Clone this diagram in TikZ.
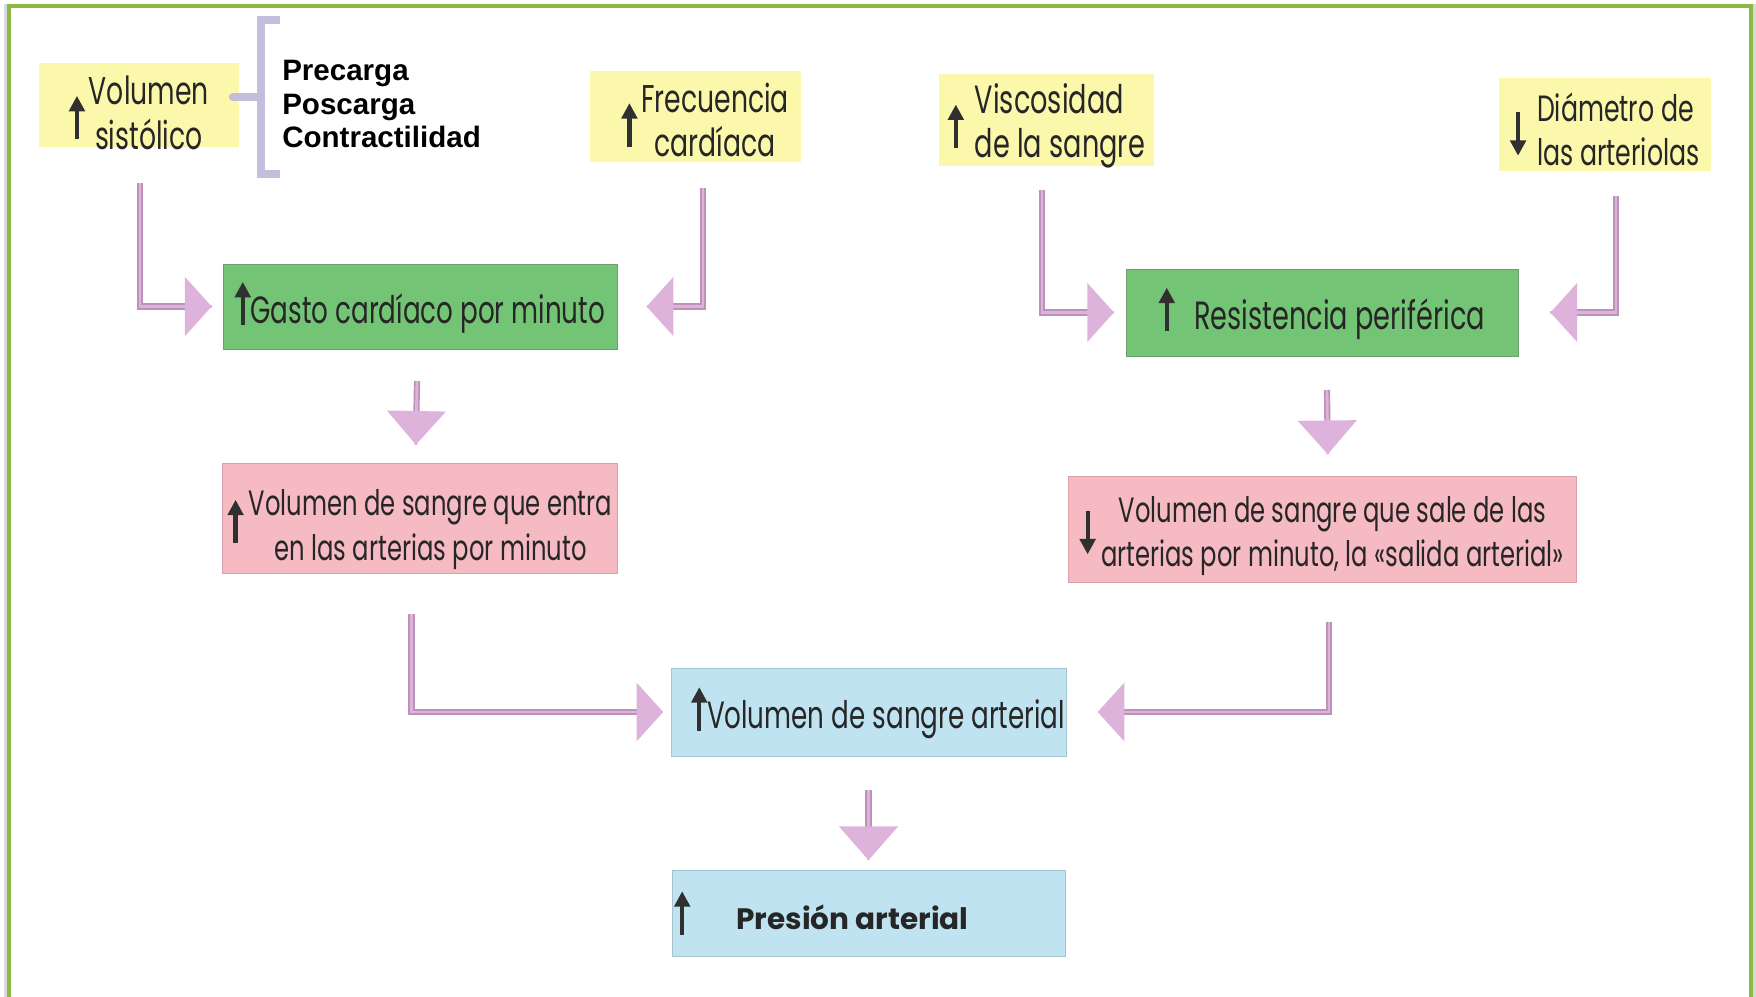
\documentclass[tikz,border=0pt]{standalone}
\usepackage{fontspec}
\usepackage{tikz}
\usetikzlibrary{positioning,calc,arrows.meta}

\newfontfamily\futu[FakeStretch=0.69]{Poppins}
\newfontfamily\futub{Poppins}
\newfontfamily\arialb{Liberation Sans}

\definecolor{frameg}{HTML}{8DB845}
\definecolor{ylw}{HTML}{FBF8AC}
\definecolor{grn}{HTML}{74C476}
\definecolor{grnedge}{HTML}{6E9E6E}
\definecolor{pnk}{HTML}{F5BAC2}
\definecolor{pnkedge}{HTML}{D5A3AA}
\definecolor{blu}{HTML}{BFE3F1}
\definecolor{bluedge}{HTML}{A4C4CF}
\definecolor{txt}{HTML}{262626}
\definecolor{glyphc}{HTML}{303030}
\definecolor{flowout}{HTML}{BC92B8}
\definecolor{flowhead}{HTML}{DDB3DC}
\definecolor{bracec}{HTML}{C5BDDD}

\tikzstyle{box} = [rectangle, inner sep=0pt, outer sep=0pt, text=txt, font=\futu\fontsize{26}{31.5}\selectfont]
\tikzstyle{cause} = [box, fill=ylw]
\tikzstyle{heart} = [box, fill=grn, draw=grnedge, line width=0.6pt]
\tikzstyle{vol} = [box, fill=pnk, draw=pnkedge, line width=0.6pt]
\tikzstyle{art} = [box, fill=blu, draw=bluedge, line width=0.6pt]
\tikzstyle{det} = [inner sep=0pt, align=left, font=\arialb\bfseries\fontsize{21}{23.8}\selectfont]
\tikzstyle{glyph} = [draw=glyphc, line width=3pt, -{Triangle[length=11pt,width=11pt]}]
\tikzstyle{flow} = [draw=flowout, line width=4.4pt, postaction={draw=flowhead, line width=2pt, -}]
\tikzstyle{flowh} = [flow, -{Triangle[length=19pt,width=41pt,color=flowhead]}]
\tikzstyle{flowv} = [flow, -{Triangle[length=24pt,width=41pt,color=flowhead]}]
\tikzstyle{brace} = [draw=bracec, line width=6pt]
% font size per box, and how far a two-line label drops below the box centre
\tikzset{fs/.style={font=\futu\fontsize{#1}{31.5}\selectfont},
         drop/.style={text depth=0pt, text height=#1}}

\newcommand{\uparr}[1][2pt]{\tikz[baseline={(0pt,#1)}]\draw[glyph] (0pt,0pt) -- (0pt,31pt);}
\newcommand{\dnarr}[1][2pt]{\tikz[baseline={(0pt,#1)}]\draw[glyph] (0pt,31pt) -- (0pt,0pt);}

\begin{document}
\begin{tikzpicture}[x=0.025cm, y=-0.025cm]
    \useasboundingbox (0,0) rectangle (1756,997);
    % page frame, open at the bottom
    \draw[gray!30, line width=1.5pt] (5.5,1010) -- (5.5,4);
    \draw[gray!30, line width=1.5pt] (1754.5,1010) -- (1754.5,4);
    \draw[frameg, line width=3pt] (9,1010) |- (1751,6) -- (1751,1010);

    % the four causes along the top
    \node [cause, fs=27.5, drop=31pt, minimum width=5cm, minimum height=2.1cm] (volsis) at (139,105)
        {\uparr[9pt]\hspace{3pt}\begin{tabular}{@{}c@{}}Volumen\\sistólico\end{tabular}};
    \node [cause, fs=27.5, drop=25pt, minimum width=5.275cm, minimum height=2.275cm] (frec) at (695.5,116.5)
        {\hspace{14pt}\uparr[9pt]\hspace{3pt}\begin{tabular}{@{}c@{}}Frecuencia\\cardíaca\end{tabular}};
    \node [cause, fs=28, drop=22pt, minimum width=5.375cm, minimum height=2.3cm] (visc) at (1046.5,120)
        {\uparr[9pt]\hspace{8pt}\begin{tabular}{@{}l@{}}Viscosidad\\de la sangre\end{tabular}};
    \node [cause, fs=26, drop=26.5pt, minimum width=5.3cm, minimum height=2.325cm] (diam) at (1605,124.5)
        {\dnarr[9pt]\hspace{8pt}\begin{tabular}{@{}l@{}}Diámetro de\\las arteriolas\end{tabular}};
    \node [det, anchor=north west] (det) at (282,60) {Precarga\\Poscarga\\Contractilidad};

    % the bracket that groups them
    \draw [brace] (280,20) -| (261,174) -- (280,174);
    \draw [brace, line cap=round] ($(volsis.east)+(-6,-8)$) -- (261,97);

    % middle row
    \node [heart, fs=27, minimum width=9.85cm, minimum height=2.125cm] (gasto) at (420,306.5)
        {\uparr[1.5pt]Gasto cardíaco por minuto};
    \node [heart, fs=28, minimum width=9.8cm, minimum height=2.175cm] (resist) at (1322,312.5)
        {\uparr[1.5pt]\hspace{14pt}Resistencia periférica};
    \node [vol, fs=25, drop=28pt, below=2.85cm of gasto, minimum width=9.875cm, minimum height=2.75cm] (entra)
        {\uparr[4pt]\hspace{4pt}\begin{tabular}{@{}c@{}}Volumen de sangre que entra\\en las arterias por minuto\end{tabular}};
    \node [vol, fs=25, drop=22pt, below=3cm of resist, minimum width=12.7cm, minimum height=2.65cm] (sale)
        {\dnarr[7pt]\hspace{4pt}\begin{tabular}{@{}c@{}}Volumen de sangre que sale de las\\arterias por minuto, la «salida arterial»\end{tabular}};

    % result
    \node [art, fs=27, minimum width=9.875cm, minimum height=2.2cm] (volart) at (868.5,712)
        {\hspace{14pt}\uparr[1.5pt]Volumen de sangre arterial};
    \node [art, below=2.85cm of volart, minimum width=9.825cm, minimum height=2.15cm,
           text width=9.7cm, align=left] (presion)
        {\uparr[4pt]\hspace{33pt}{\futub\bfseries\fontsize{21}{25}\selectfont\spaceskip=0pt Presión arterial}};

    % connectors
    \draw [flowh, shorten >=8pt] ($(volsis.south)+(1,36)$) |- (gasto.west);
    \draw [flowh, shorten >=21pt] ($(frec.south)+(7.5,26)$) |- (gasto.east);
    \draw [flowh, shorten >=8.5pt] ($(visc.south)+(-4.5,24)$) |- (resist.west);
    \draw [flowh, shorten >=23pt] ($(diam.south)+(11,25)$) |- (resist.east);
    \draw [flowv, shorten >=13pt] ($(gasto.south)+(-3,32)$) -- ($(entra.north)+(-4.5,0)$);
    \draw [flowv, shorten >=15.5pt] ($(resist.south)+(5,34)$) -- ($(sale.north)+(6,0)$);
    \draw [flowh, shorten >=5.5pt] ($(entra.south)+(-8.5,41)$) |- (volart.west);
    \draw [flowh, shorten >=22.5pt] ($(sale.south)+(7,40)$) |- (volart.east);
    \draw [flowv, shorten >=7pt] ($(volart.south)+(0,34)$) -- (presion.north);
\end{tikzpicture}
\end{document}
